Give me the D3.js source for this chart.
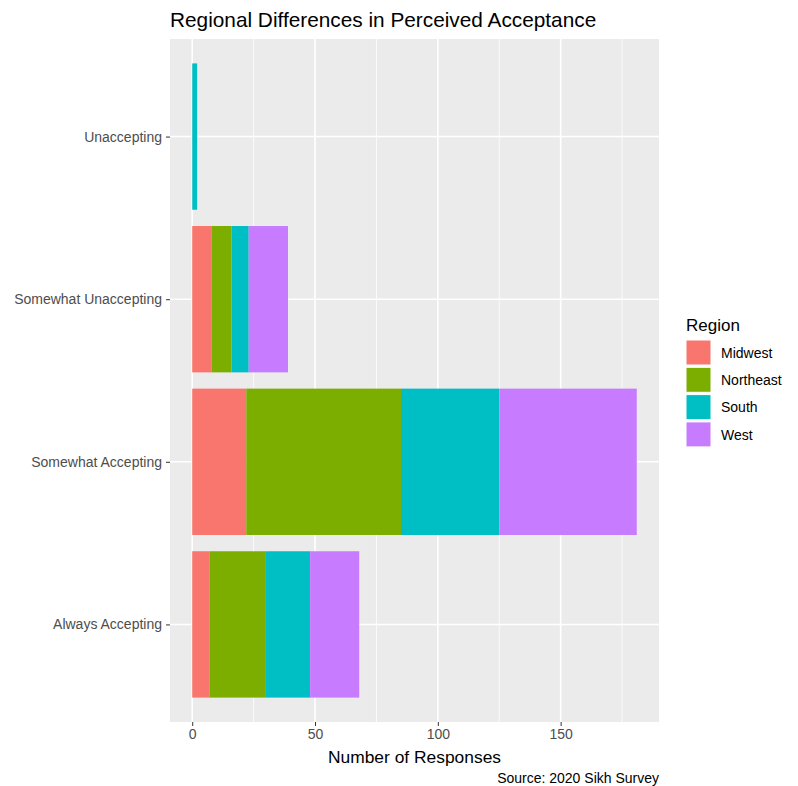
<!DOCTYPE html>
<html>
<head>
<meta charset="utf-8">
<script src="https://cdn.jsdelivr.net/npm/d3@7"></script>
<style>
  body { margin: 0; background: #fff; }
  svg { display: block; font-family: "Liberation Sans", Arial, sans-serif; }
</style>
</head>
<body>
<svg id="chart" width="798" height="786"></svg>
<script>
// categories, bottom to top as in the plot
const categories = ['Always Accepting', 'Somewhat Accepting', 'Somewhat Unaccepting', 'Unaccepting'];
const regions = ['Midwest', 'Northeast', 'South', 'West'];
const regionColors = ['#F8766D', '#7CAE00', '#00BFC4', '#C77CFF'];

// responses per category, one array per region
const midwest = [7, 22, 8, 0];
const northeast = [23, 63, 8, 0];
const south = [18, 40, 7, 2];
const west = [20, 56, 16, 0];

const xTicks = [0, 50, 100, 150];
const xMinor = [25, 75, 125, 175];

const svg = d3.select('#chart');
const panel = { left: 170, right: 659, top: 39, bottom: 722 };

const rows = categories.map((c, i) => ({
  category: c,
  Midwest: midwest[i],
  Northeast: northeast[i],
  South: south[i],
  West: west[i]
}));

const stacked = d3.stack().keys(regions)(rows);
const maxTotal = d3.max(rows, (r) => regions.reduce((s, k) => s + r[k], 0));
const pad = maxTotal * 0.05;

const x = d3.scaleLinear()
  .domain([-pad, maxTotal + pad])
  .range([panel.left, panel.right]);

// discrete axis with ggplot's 0.6 expansion
const y = d3.scaleLinear()
  .domain([-0.6, categories.length - 1 + 0.6])
  .range([panel.bottom, panel.top]);
const bandH = Math.abs(y(1) - y(0)) * 0.9;

const color = d3.scaleOrdinal().domain(regions).range(regionColors);

// panel background
svg.append('rect')
  .attr('x', panel.left)
  .attr('y', panel.top)
  .attr('width', panel.right - panel.left)
  .attr('height', panel.bottom - panel.top)
  .attr('fill', '#EBEBEB');

// grid lines
const grid = svg.append('g').attr('class', 'grid');
grid.selectAll('line.minor')
  .data(xMinor)
  .join('line')
  .attr('x1', (d) => x(d)).attr('x2', (d) => x(d))
  .attr('y1', panel.top).attr('y2', panel.bottom)
  .attr('stroke', '#fff').attr('stroke-width', 0.8);
grid.selectAll('line.major')
  .data(xTicks)
  .join('line')
  .attr('x1', (d) => x(d)).attr('x2', (d) => x(d))
  .attr('y1', panel.top).attr('y2', panel.bottom)
  .attr('stroke', '#fff').attr('stroke-width', 1.6);
grid.selectAll('line.cat')
  .data(categories)
  .join('line')
  .attr('x1', panel.left).attr('x2', panel.right)
  .attr('y1', (d, i) => y(i)).attr('y2', (d, i) => y(i))
  .attr('stroke', '#fff').attr('stroke-width', 1.6);

// stacked bars
svg.append('g')
  .selectAll('g')
  .data(stacked)
  .join('g')
  .attr('fill', (s) => color(s.key))
  .selectAll('rect')
  .data((s) => s)
  .join('rect')
  .attr('x', (d) => x(d[0]))
  .attr('width', (d) => x(d[1]) - x(d[0]))
  .attr('y', (d, i) => y(i) - bandH / 2)
  .attr('height', bandH);

// x axis
const xAxis = svg.append('g')
  .attr('transform', `translate(0,${panel.bottom})`)
  .call(d3.axisBottom(x).tickValues(xTicks).tickSize(4).tickPadding(3).tickFormat(d3.format('d')));
xAxis.select('.domain').remove();
xAxis.selectAll('line').attr('stroke', '#333').attr('stroke-width', 1);
xAxis.selectAll('text').attr('fill', '#4D4D4D').style('font-size', '14px')
  .style('font-family', '"Liberation Sans", Arial, sans-serif');

// y axis
const yAxis = svg.append('g')
  .attr('transform', `translate(${panel.left},0)`)
  .call(d3.axisLeft(y).tickValues(d3.range(categories.length)).tickSize(4).tickPadding(4)
    .tickFormat((i) => categories[i]));
yAxis.select('.domain').remove();
yAxis.selectAll('line').attr('stroke', '#333').attr('stroke-width', 1);
yAxis.selectAll('text').attr('fill', '#4D4D4D').style('font-size', '14px')
  .style('font-family', '"Liberation Sans", Arial, sans-serif');

// titles
svg.append('text')
  .attr('x', panel.left)
  .attr('y', 27)
  .attr('fill', '#000')
  .style('font-size', '20.8px')
  .text('Regional Differences in Perceived Acceptance');

svg.append('text')
  .attr('x', (panel.left + panel.right) / 2)
  .attr('y', 763)
  .attr('text-anchor', 'middle')
  .attr('fill', '#000')
  .style('font-size', '17.4px')
  .text('Number of Responses');

svg.append('text')
  .attr('x', panel.right)
  .attr('y', 783)
  .attr('text-anchor', 'end')
  .attr('fill', '#000')
  .style('font-size', '14px')
  .text('Source: 2020 Sikh Survey');

// legend
const legend = svg.append('g').attr('transform', 'translate(686,0)');
legend.append('text')
  .attr('x', 0)
  .attr('y', 331)
  .attr('fill', '#000')
  .style('font-size', '17px')
  .text('Region');

const items = legend.selectAll('g.item')
  .data(regions)
  .join('g')
  .attr('transform', (d, i) => `translate(0,${340 + i * 27.3})`);
items.append('rect')
  .attr('width', 25)
  .attr('height', 25)
  .attr('fill', (d) => color(d))
  .attr('stroke', '#fff')
  .attr('stroke-width', 1);
items.append('text')
  .attr('x', 35)
  .attr('y', 13)
  .attr('dy', '0.35em')
  .attr('fill', '#000')
  .style('font-size', '14px')
  .text((d) => d);
</script>
</body>
</html>
